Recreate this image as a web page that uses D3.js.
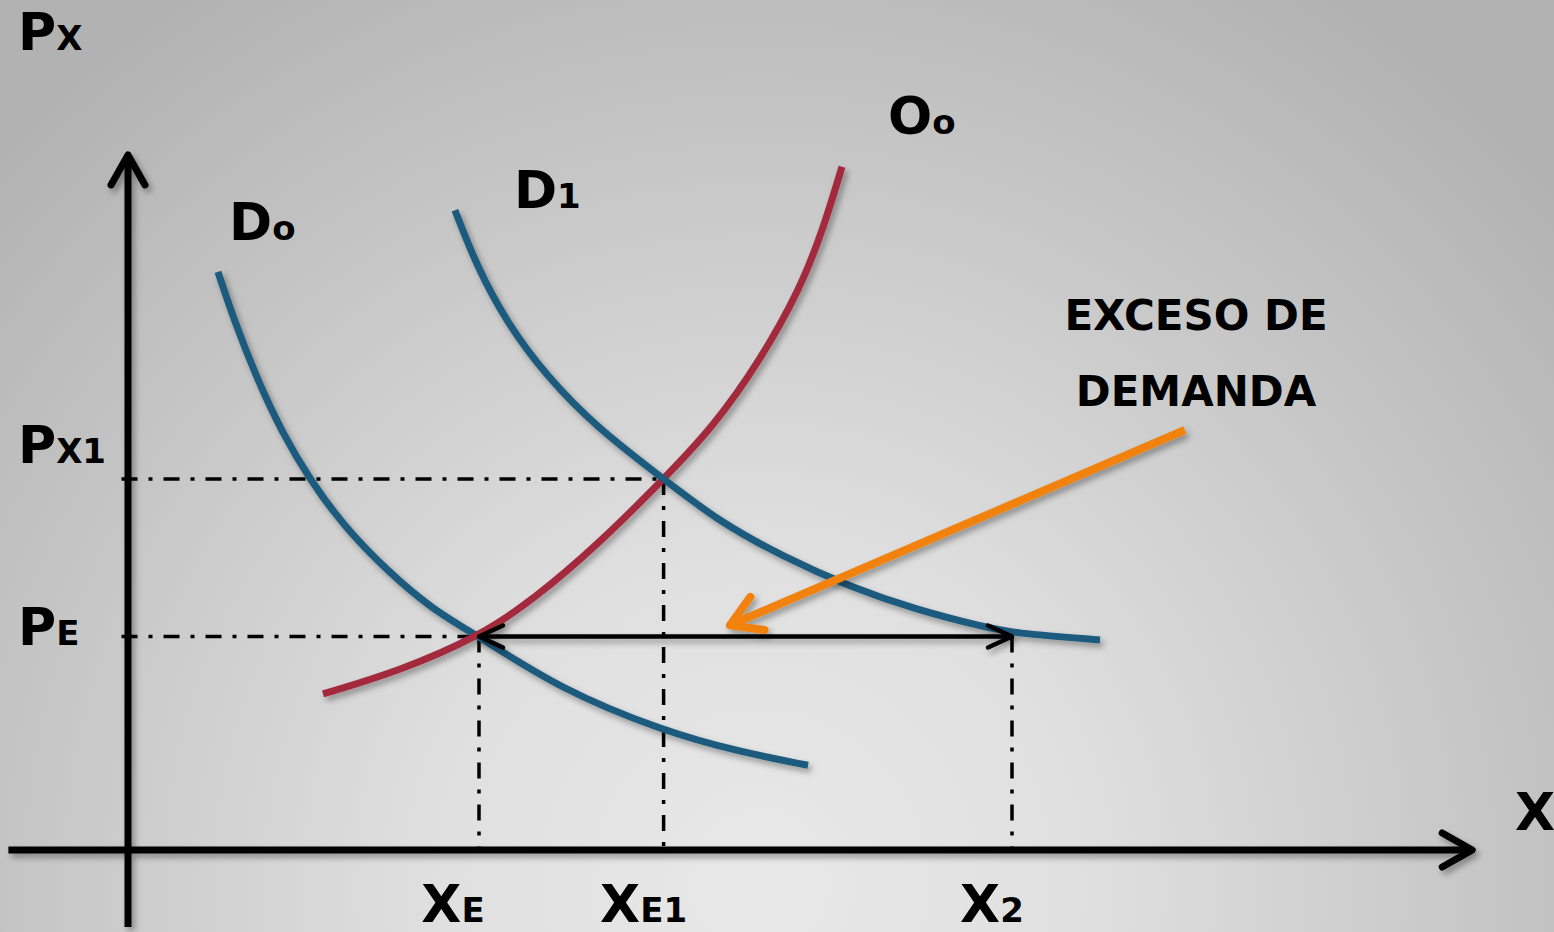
<!DOCTYPE html>
<html>
<head>
<meta charset="utf-8">
<script src="https://cdn.jsdelivr.net/npm/d3@7"></script>
<style>
  html, body { margin: 0; padding: 0; overflow: hidden; }
  text { font-family: "DejaVu Sans", Verdana, sans-serif; font-weight: bold; fill: #000; }
</style>
</head>
<body>
<div id="chart"></div>
<script>
// Equilibrium values (quantity X, price P) on a 0-100 scale
const eqQty = [27, 41.2, 68];          // XE, XE1, X2
const eqPrice = [30.5, 53];            // PE, PX1

// Curves: [quantity, price]
const demand0 = [[6.92, 82.6], [8.08, 76.1], [9.92, 67.3], [11.92, 59.4], [14, 52.9],
                 [16.54, 46.4], [19.92, 39.9], [23.46, 34.3], [27, 30.5], [33.23, 23],
                 [41.15, 17], [47.08, 14], [52.31, 12.1]];
const demand1 = [[25.15, 91.4], [26.85, 83.3], [29.15, 75.3], [32.23, 67.6], [36.08, 60.3],
                 [41.2, 53], [45.31, 47.1], [50.38, 41.9], [55.54, 37.6], [60.69, 34.3],
                 [65.77, 31.9], [68, 31], [74.77, 30]];
const supply0 = [[15, 22.3], [20.92, 25.6], [27, 30.5], [31.15, 35.7], [36.31, 43.9],
                 [41.2, 53], [45, 60.4], [48.62, 69.9], [51.69, 80.1], [53.46, 88.6],
                 [54.92, 97.6]];

// Orange arrow: tail, tip
const excessArrow = [[81.3, 60], [46.3, 32.1]];

// Axis extents
const xAxisExtent = [-9.2, 103.4];
const yAxisExtent = [-11, 99.3];

const width = 1554, height = 932;
const x = d3.scaleLinear().domain([0, 100]).range([128, 1428]);
const y = d3.scaleLinear().domain([0, 100]).range([850, 150]);

const svg = d3.select("#chart").append("svg")
    .attr("width", width)
    .attr("height", height);

const defs = svg.append("defs");

// Background gradient
const grad = defs.append("radialGradient")
    .attr("id", "bg")
    .attr("gradientUnits", "userSpaceOnUse")
    .attr("cx", 760).attr("cy", 880).attr("r", 1050);
grad.append("stop").attr("offset", 0).attr("stop-color", "#e8e8e8");
grad.append("stop").attr("offset", 0.3).attr("stop-color", "#e0e0e0");
grad.append("stop").attr("offset", 1).attr("stop-color", "#b2b2b2");

// Soft shadow (user space so flat lines keep it)
const shadow = defs.append("filter")
    .attr("id", "shadow")
    .attr("filterUnits", "userSpaceOnUse")
    .attr("x", 0).attr("y", 0)
    .attr("width", width).attr("height", height);
shadow.append("feDropShadow")
    .attr("dx", 3).attr("dy", 4)
    .attr("stdDeviation", 3)
    .attr("flood-color", "#000")
    .attr("flood-opacity", 0.35);

// Open chevron markers
function chevron(id, back, half, color, sw) {
    const m = defs.append("marker")
        .attr("id", id)
        .attr("markerUnits", "userSpaceOnUse")
        .attr("viewBox", `${-back - sw} ${-half - sw} ${back + 2 * sw} ${2 * half + 2 * sw}`)
        .attr("refX", 0).attr("refY", 0)
        .attr("markerWidth", back + 2 * sw)
        .attr("markerHeight", 2 * half + 2 * sw)
        .attr("orient", "auto-start-reverse");
    m.append("path")
        .attr("d", `M${-back},${-half} L0,0 L${-back},${half}`)
        .attr("fill", "none")
        .attr("stroke", color)
        .attr("stroke-width", sw)
        .attr("stroke-linecap", "round")
        .attr("stroke-linejoin", "round");
}
chevron("axisHead", 30, 17, "#000", 7);
chevron("spanHead", 24, 11, "#000", 4.5);
chevron("orangeHead", 30, 18, "#f0820f", 8);

svg.append("rect")
    .attr("width", width).attr("height", height)
    .attr("fill", "url(#bg)");

const line = d3.line()
    .x(d => x(d[0]))
    .y(d => y(d[1]))
    .curve(d3.curveBasis);

// Axes
const axes = svg.append("g").attr("filter", "url(#shadow)");
axes.append("line")
    .attr("x1", x(0)).attr("x2", x(0))
    .attr("y1", y(yAxisExtent[0])).attr("y2", y(yAxisExtent[1]))
    .attr("stroke", "#000").attr("stroke-width", 7)
    .attr("marker-end", "url(#axisHead)");
axes.append("line")
    .attr("x1", x(xAxisExtent[0])).attr("x2", x(xAxisExtent[1]))
    .attr("y1", y(0)).attr("y2", y(0))
    .attr("stroke", "#000").attr("stroke-width", 7)
    .attr("marker-end", "url(#axisHead)");

// Dash-dot guide lines
const guides = svg.append("g")
    .attr("stroke", "#000")
    .attr("stroke-width", 3.5)
    .attr("stroke-dasharray", "16,11,4,11")
    .attr("fill", "none");
// horizontal: PE to XE, PX1 to XE1
[[eqPrice[0], eqQty[0]], [eqPrice[1], eqQty[1]]].forEach(([p, q]) => {
    guides.append("line")
        .attr("x1", x(-0.5)).attr("x2", x(q))
        .attr("y1", y(p)).attr("y2", y(p));
});
// vertical: XE, XE1 from their price; X2 from PE
[[eqQty[0], eqPrice[0]], [eqQty[1], eqPrice[1]], [eqQty[2], eqPrice[0]]].forEach(([q, p]) => {
    guides.append("line")
        .attr("x1", x(q)).attr("x2", x(q))
        .attr("y1", y(p)).attr("y2", y(0));
});

// Curves
const curves = svg.append("g")
    .attr("fill", "none")
    .attr("stroke-width", 7)
    .attr("filter", "url(#shadow)");
curves.append("path").datum(demand0).attr("d", line).attr("stroke", "#1b5a7e");
curves.append("path").datum(supply0).attr("d", line).attr("stroke", "#a3293d");
curves.append("path").datum(demand1).attr("d", line).attr("stroke", "#1b5a7e");

// Excess demand span XE -> X2
svg.append("line")
    .attr("x1", x(eqQty[0])).attr("x2", x(eqQty[2]))
    .attr("y1", y(eqPrice[0])).attr("y2", y(eqPrice[0]))
    .attr("stroke", "#000").attr("stroke-width", 4.5)
    .attr("filter", "url(#shadow)")
    .attr("marker-start", "url(#spanHead)")
    .attr("marker-end", "url(#spanHead)");

// Orange pointer
svg.append("line")
    .attr("x1", x(excessArrow[0][0])).attr("y1", y(excessArrow[0][1]))
    .attr("x2", x(excessArrow[1][0])).attr("y2", y(excessArrow[1][1]))
    .attr("stroke", "#f0820f").attr("stroke-width", 8)
    .attr("filter", "url(#shadow)")
    .attr("marker-end", "url(#orangeHead)");

// Labels: main letter plus smaller subscript-like letters
function label(px, py, main, sub, anchor) {
    const t = svg.append("text")
        .attr("x", px).attr("y", py)
        .attr("text-anchor", anchor || "start");
    t.append("tspan").attr("font-size", 52).text(main);
    if (sub) t.append("tspan").attr("font-size", 34).text(sub);
    return t;
}

label(18, 50, "P", "X");
label(1515, 830, "X", "");
label(18, y(eqPrice[1]) - 16, "P", "X1");
label(18, y(eqPrice[0]) + 8, "P", "E");
label(x(eqQty[0]) - 26, 922, "X", "E", "middle");
label(x(eqQty[1]) - 20, 922, "X", "E1", "middle");
label(x(eqQty[2]) - 20, 922, "X", "2", "middle");

// Curve names placed near curve ends
const d0s = demand0[0], d1s = demand1[0], o0e = supply0[supply0.length - 1];
label(x(d0s[0]) + 11, y(d0s[1]) - 32, "D", "o");
label(x(d1s[0]) + 59, y(d1s[1]) - 2, "D", "1");
label(x(o0e[0]) + 46, y(o0e[1]) - 33, "O", "o");

// Annotation
const note = svg.append("text")
    .attr("text-anchor", "middle")
    .attr("font-size", 42);
note.append("tspan").attr("x", 1196).attr("y", 330).text("EXCESO DE");
note.append("tspan").attr("x", 1196).attr("y", 406).text("DEMANDA");
</script>
</body>
</html>
